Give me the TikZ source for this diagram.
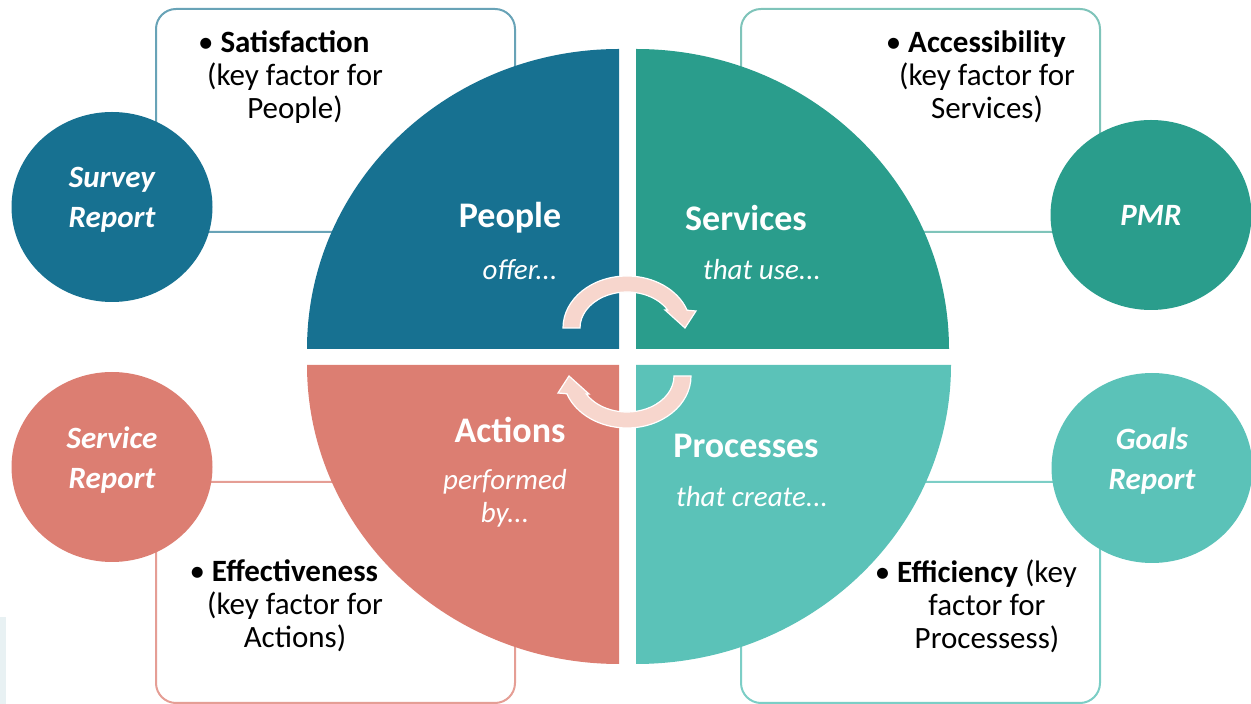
\documentclass[tikz,border=0pt]{standalone}
\usepackage{fontspec}
\setmainfont{Carlito}
\usetikzlibrary{shapes.geometric,positioning}

\definecolor{peoplecol}{RGB}{23,113,145}
\definecolor{servcol}{RGB}{42,157,140}
\definecolor{actcol}{RGB}{220,126,114}
\definecolor{proccol}{RGB}{91,194,184}
\definecolor{cyclecol}{RGB}{247,214,205}
\definecolor{stripcol}{RGB}{232,241,243}

\tikzset{
  factbox/.style={draw, line width=2pt, rounded corners=20pt, fill=white,
    minimum width=359pt, inner sep=0pt},
  fact/.style={align=center, inner sep=0pt, font=\fontsize{31}{33}\selectfont},
  report/.style={ellipse, minimum width=201pt, minimum height=190pt, inner sep=0pt,
    align=center, text=white, font=\fontsize{31}{40}\selectfont\bfseries\itshape},
  tworow/.style={text depth=19pt},
  quadtitle/.style={text=white, inner sep=0pt, font=\fontsize{36}{40}\selectfont\bfseries},
  quadsub/.style={text=white, align=center, inner sep=0pt, font=\fontsize{29}{33}\selectfont\itshape},
  cyclearrow/.style={fill=cyclecol, draw=white, line width=1.2pt},
}

\begin{document}
\begin{tikzpicture}[x=1pt,y=1pt]
\useasboundingbox (0,0) rectangle (1251,704);

\fill[stripcol] (0,0) rectangle (6,87);

% boxes behind the wheel
\node[factbox, draw=peoplecol!65, minimum height=223pt] (boxP) at (335.5,583.5) {};
\node[factbox, draw=servcol!60, minimum height=223pt] (boxS) at (920.5,583.5) {};
\node[factbox, draw=actcol!75, minimum height=221pt] (boxA) at (335.5,111.5) {};
\node[factbox, draw=proccol!80, minimum height=221pt] (boxQ) at (920.5,111.5) {};

\node[fact] (factP) at (295,627) {\llap{\textbullet\ }\textbf{Satisfaction}\\(key factor for\\People)};
\node[fact] (factS) at (987,627) {\llap{\textbullet\ }\textbf{Accessibility}\\(key factor for\\Services)};
\node[fact] (factA) at (295,98) {\llap{\textbullet\ }\textbf{Effectiveness}\\(key factor for\\Actions)};
\node[fact] (factQ) at (987,98) {\llap{\textbullet\ }\textbf{Efficiency} (key\\factor for\\Processess)};

% the wheel
\coordinate (cP) at (619,355);
\coordinate (cS) at (636,355);
\coordinate (cA) at (619,339);
\coordinate (cQ) at (636,339);

\fill[peoplecol] (cP) -- (307,355) arc[start angle=180, end angle=90, x radius=312, y radius=300] -- cycle;
\fill[servcol] (cS) -- (636,655) arc[start angle=90, end angle=0, x radius=313, y radius=300] -- cycle;
\fill[actcol] (cA) -- (307,339) arc[start angle=180, end angle=270, x radius=312, y radius=299] -- cycle;
\fill[proccol] (cQ) -- (951,339) arc[start angle=0, end angle=-90, x radius=315, y radius=299] -- cycle;

\node[quadtitle] (people) at (510,486) {People};
\node[quadsub] (offer) at (520,434) {offer...};
\node[quadtitle] (services) at (746,486) {Services};
\node[quadsub] (use) at (762,434) {that use...};
\node[quadtitle] (actions) at (510,274) {Actions};
\node[quadsub] (perf) at (505,206) {performed\\by...};
\node[quadtitle] (processes) at (746,258) {Processes};
\node[quadsub] (create) at (752,207) {that create...};

% cycle arrows
\foreach \r in {0,180}
  \filldraw[cyclearrow, rotate around={\r:(627,352)}]
    (563,376) arc[start angle=180, end angle=20, x radius=64, y radius=52]
    -- (696,393) -- (685,376) -- (665,394) -- (667.7,394)
    arc[start angle=30, end angle=180, x radius=47, y radius=36] -- cycle;

% reports
\node[report, tworow, fill=peoplecol] (survey) at (112,497) {Survey\\Report};
\node[report, fill=servcol] (pmr) at (1151,489) {PMR};
\node[report, tworow, fill=actcol] (servrep) at (112,237) {Service\\Report};
\node[report, tworow, fill=proccol] (goals) at (1152,236) {Goals\\Report};

\end{tikzpicture}
\end{document}
